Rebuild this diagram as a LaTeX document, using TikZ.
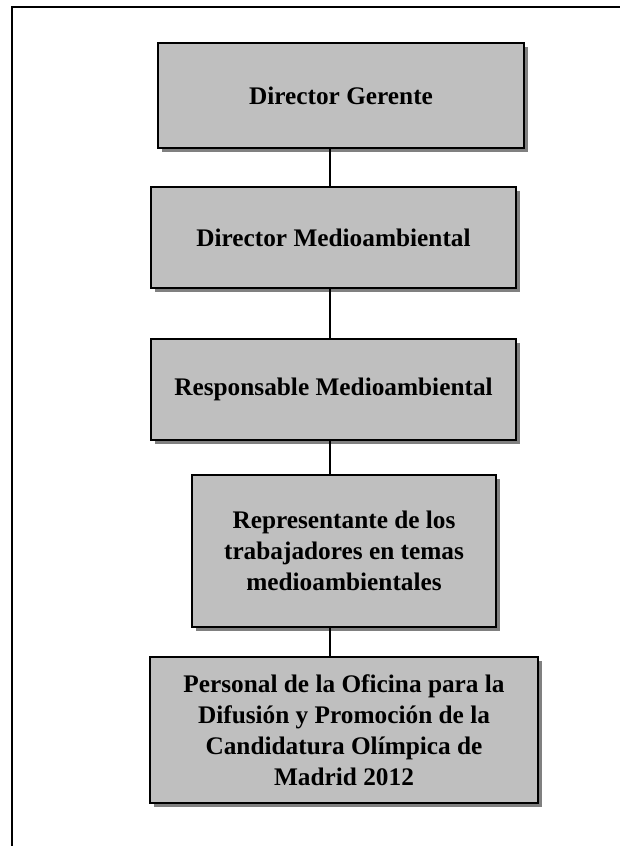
\documentclass[tikz,border=0pt]{standalone}
\usepackage{fontspec}
\setmainfont{Liberation Serif}
\usetikzlibrary{shadows}
\begin{document}
\begin{tikzpicture}[x=1pt,y=-1pt,
  post/.style={draw, line width=1.5pt, fill=black!25, align=center, inner sep=0pt,
    font=\fontsize{25.3}{31}\selectfont\bfseries,
    drop shadow={shadow xshift=4pt, shadow yshift=-4pt, fill=black!50, opacity=1}},
  link/.style={line width=1.5pt}]
\fill[white] (0,0) rectangle (622,846);
\useasboundingbox (0,0) rectangle (622,846);
\coordinate (fb) at (12,846);
\coordinate (fc) at (12,7);
\coordinate (fr) at (620,7);
\draw[link] (fb) -- (fc) -- (fr);
\node[post, minimum width=366, minimum height=105] (dg) at (341,95.5){Director Gerente};
\node[post, minimum width=365, minimum height=101] (dm) at (333.5,237.5){Director Medioambiental};
\node[post, minimum width=365, minimum height=101] (rm) at (333.5,389.5){Responsable Medioambiental};
\node[post, minimum width=304, minimum height=152] (rt) at (344,551){Representante de los\\trabajadores en temas\\medioambientales};
\node[post, minimum width=388, minimum height=146] (po) at (344,730){Personal de la Oficina para la\\Difusi\'on y Promoci\'on de la\\Candidatura Ol\'impica de\\Madrid 2012};
\coordinate (spine) at (330,0);
\draw[link](dg.south -| spine) -- (dm.north -| spine);
\draw[link](dm.south -| spine) -- (rm.north -| spine);
\draw[link](rm.south -| spine) -- (rt.north -| spine);
\draw[link](rt.south -| spine) -- (po.north -| spine);

\end{tikzpicture}
\end{document}
